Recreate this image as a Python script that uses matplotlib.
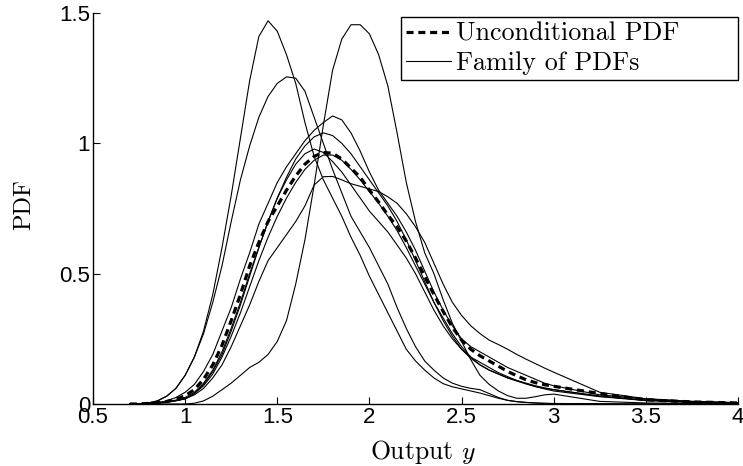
import matplotlib
matplotlib.use("Agg")
import matplotlib.pyplot as plt

# shared x grid (Output y)
x_grid = [0.70, 0.75, 0.80, 0.85, 0.90, 0.95, 1.00, 1.05, 1.10, 1.15, 1.20, 1.25, 1.30, 1.35,
          1.40, 1.45, 1.50, 1.55, 1.60, 1.65, 1.70, 1.75, 1.80, 1.85, 1.90, 1.95, 2.00, 2.05,
          2.10, 2.15, 2.20, 2.25, 2.30, 2.35, 2.40, 2.45, 2.50, 2.55, 2.60, 2.65, 2.70, 2.75,
          2.80, 2.85, 2.90, 2.95, 3.00, 3.25, 3.50, 3.75, 4.00]

# unconditional PDF (dashed)
pdf_uncond = [0.0, 0.0, 0.002, 0.005, 0.01, 0.018, 0.032, 0.055, 0.095, 0.15, 0.225, 0.32, 0.42, 0.53,
              0.62, 0.70, 0.76, 0.82, 0.875, 0.92, 0.95, 0.965, 0.962, 0.94, 0.905, 0.87, 0.82, 0.775,
              0.725, 0.68, 0.625, 0.56, 0.49, 0.42, 0.355, 0.295, 0.245, 0.21, 0.185, 0.165, 0.145, 0.125,
              0.108, 0.093, 0.082, 0.074, 0.068, 0.04, 0.016, 0.008, 0.004]

# family of conditional PDFs
pdf_a = [0.0, 0.001, 0.004, 0.012, 0.03, 0.06, 0.11, 0.18, 0.28, 0.42, 0.6, 0.8, 1.02, 1.24,
         1.41, 1.47, 1.43, 1.34, 1.23, 1.08, 0.95, 0.86, 0.79, 0.72, 0.64, 0.57, 0.49, 0.42,
         0.35, 0.28, 0.21, 0.165, 0.13, 0.1, 0.078, 0.066, 0.058, 0.05, 0.042, 0.032, 0.022, 0.014,
         0.009, 0.006, 0.004, 0.002, 0.001, 0.0, 0.0, 0.0, 0.0]
pdf_b = [0.0, 0.0, 0.0, 0.0, 0.0, 0.0, 0.0, 0.003, 0.012, 0.03, 0.055, 0.08, 0.11, 0.14,
         0.16, 0.19, 0.24, 0.32, 0.46, 0.63, 0.84, 1.07, 1.28, 1.40, 1.455, 1.455, 1.42, 1.34,
         1.22, 1.04, 0.85, 0.7, 0.58, 0.5, 0.4, 0.31, 0.24, 0.17, 0.11, 0.075, 0.05, 0.032,
         0.022, 0.022, 0.028, 0.035, 0.038, 0.01, 0.004, 0.002, 0.0]
pdf_c = [0.0, 0.001, 0.004, 0.012, 0.03, 0.06, 0.11, 0.18, 0.27, 0.39, 0.53, 0.7, 0.86, 0.99,
         1.1, 1.18, 1.23, 1.255, 1.25, 1.2, 1.1, 1.0, 0.9, 0.81, 0.72, 0.66, 0.6, 0.53,
         0.46, 0.37, 0.29, 0.22, 0.165, 0.13, 0.1, 0.08, 0.068, 0.06, 0.055, 0.04, 0.025, 0.014,
         0.009, 0.006, 0.004, 0.003, 0.002, 0.001, 0.0, 0.0, 0.0]
pdf_d = [0.0, 0.0, 0.002, 0.005, 0.012, 0.025, 0.045, 0.075, 0.125, 0.19, 0.28, 0.37, 0.48, 0.58,
         0.69, 0.77, 0.85, 0.91, 0.96, 1.01, 1.05, 1.08, 1.105, 1.09, 1.04, 0.97, 0.89, 0.82,
         0.77, 0.72, 0.66, 0.59, 0.51, 0.43, 0.36, 0.3, 0.25, 0.22, 0.2, 0.18, 0.16, 0.14,
         0.125, 0.11, 0.095, 0.08, 0.07, 0.035, 0.02, 0.01, 0.005]
pdf_e = [0.0, 0.0, 0.002, 0.005, 0.009, 0.015, 0.025, 0.045, 0.08, 0.13, 0.2, 0.29, 0.39, 0.5,
         0.6, 0.7, 0.79, 0.87, 0.94, 0.99, 1.025, 1.04, 1.03, 1.0, 0.96, 0.91, 0.86, 0.81,
         0.76, 0.7, 0.63, 0.55, 0.47, 0.39, 0.32, 0.26, 0.21, 0.175, 0.15, 0.13, 0.115, 0.1,
         0.09, 0.08, 0.07, 0.062, 0.055, 0.03, 0.015, 0.008, 0.004]
pdf_f = [0.0, 0.0, 0.002, 0.004, 0.008, 0.013, 0.02, 0.04, 0.075, 0.125, 0.19, 0.28, 0.38, 0.49,
         0.6, 0.7, 0.79, 0.86, 0.92, 0.96, 0.978, 0.965, 0.93, 0.89, 0.84, 0.79, 0.74, 0.7,
         0.66, 0.61, 0.56, 0.5, 0.43, 0.36, 0.3, 0.25, 0.21, 0.18, 0.16, 0.14, 0.12, 0.105,
         0.09, 0.078, 0.067, 0.058, 0.05, 0.028, 0.013, 0.006, 0.003]
pdf_g = [0.0, 0.0, 0.001, 0.003, 0.006, 0.012, 0.02, 0.035, 0.06, 0.1, 0.15, 0.22, 0.3, 0.38,
         0.47, 0.55, 0.6, 0.65, 0.7, 0.76, 0.84, 0.872, 0.873, 0.86, 0.845, 0.835, 0.825, 0.815,
         0.795, 0.77, 0.73, 0.68, 0.62, 0.54, 0.46, 0.39, 0.34, 0.3, 0.27, 0.245, 0.228, 0.21,
         0.19, 0.172, 0.155, 0.138, 0.122, 0.045, 0.02, 0.01, 0.005]
pdf_h = [0.0, 0.0, 0.002, 0.004, 0.008, 0.013, 0.02, 0.04, 0.07, 0.115, 0.18, 0.26, 0.35, 0.45,
         0.55, 0.64, 0.72, 0.79, 0.85, 0.9, 0.935, 0.955, 0.955, 0.935, 0.9, 0.86, 0.815, 0.77,
         0.72, 0.665, 0.6, 0.53, 0.46, 0.39, 0.33, 0.27, 0.22, 0.18, 0.15, 0.13, 0.115, 0.1,
         0.088, 0.077, 0.067, 0.06, 0.055, 0.03, 0.015, 0.007, 0.003]
family = [pdf_a, pdf_b, pdf_c, pdf_d, pdf_e, pdf_f, pdf_g, pdf_h]

x_ticks = [0.5, 1, 1.5, 2, 2.5, 3, 3.5, 4]
x_tick_labels = ["0.5", "1", "1.5", "2", "2.5", "3", "3.5", "4"]
y_ticks = [0, 0.5, 1, 1.5]
y_tick_labels = ["0", "0.5", "1", "1.5"]

plt.rcParams["mathtext.fontset"] = "cm"
serif = "cmr10"
sans = "Liberation Sans"

fig = plt.figure(figsize=(7.43, 4.66), dpi=100)
ax = fig.add_axes([93 / 743, 1 - 404 / 466, (738 - 93) / 743, (404 - 13) / 466])

for i, ys in enumerate(family):
    ax.plot(x_grid, ys, color="black", lw=0.8,
            label="Family of PDFs" if i == 0 else None, zorder=2)
ax.plot(x_grid, pdf_uncond, color="black", lw=2.3, ls=(0, (2.2, 1.5)),
        label="Unconditional PDF", zorder=3)

ax.set_xlim(0.5, 4)
ax.set_ylim(0, 1.5)
ax.set_xticks(x_ticks)
ax.set_xticklabels(x_tick_labels, fontfamily=sans, fontsize=16)
ax.set_yticks(y_ticks)
ax.set_yticklabels(y_tick_labels, fontfamily=sans, fontsize=16)
ax.tick_params(direction="in", length=5, width=0.8, pad=2)
for s in ["top", "right"]:
    ax.spines[s].set_visible(False)
for s in ["left", "bottom"]:
    ax.spines[s].set_linewidth(1.0)

ax.set_xlabel("Output $y$", fontfamily=serif, fontsize=18.5)
ax.xaxis.set_label_coords(0.511, -0.088)
ax.set_ylabel("PDF", fontfamily=serif, fontsize=17.5)
ax.yaxis.set_label_coords(-0.09, 0.509)

handles, labels = ax.get_legend_handles_labels()
order = [labels.index("Unconditional PDF"), labels.index("Family of PDFs")]
leg_x0 = (401 - 93) / 645
leg_top = (404 - 17) / 391
leg = ax.legend([handles[k] for k in order], [labels[k] for k in order],
                loc="upper left", bbox_to_anchor=(leg_x0, leg_top - 0.166, 1.0 - leg_x0, 0.166),
                mode="expand", borderaxespad=0, fancybox=False, framealpha=1,
                edgecolor="black", prop={"family": serif, "size": 18.8}, handlelength=1.7,
                handletextpad=0.2, borderpad=0.2, labelspacing=0.2)
leg.get_frame().set_linewidth(1.0)

fig.savefig("out.png", dpi=100)
